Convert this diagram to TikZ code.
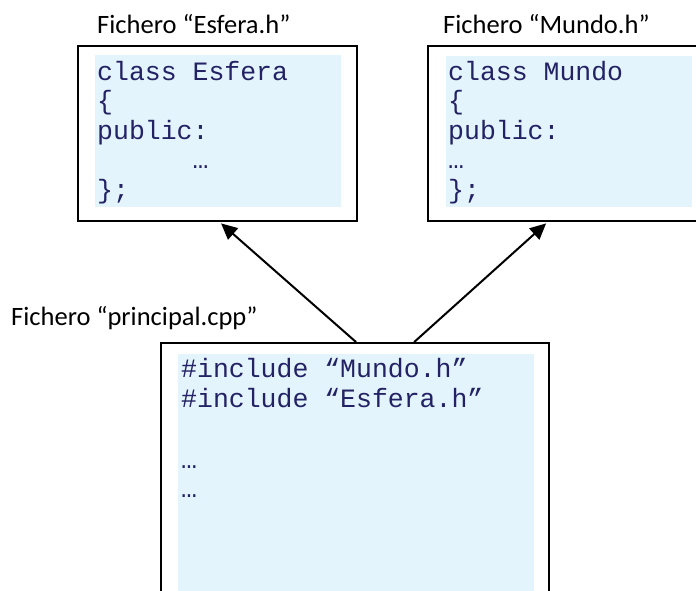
\documentclass[tikz,border=0pt]{standalone}
\usepackage{fontspec}
\setmainfont{Carlito}
\newfontfamily\codefamily{Liberation Mono}
\usetikzlibrary{arrows.meta,calc}

\definecolor{codeink}{RGB}{34,34,100}
\definecolor{codebg}{RGB}{228,244,253}

\tikzset{
  filebox/.style={draw=black, line width=1.8pt, fill=white, rectangle, inner sep=0pt},
  codearea/.style={fill=codebg, rectangle, inner sep=0pt},
  codeline/.style={anchor=base west, inner sep=0pt, text=codeink,
    font=\codefamily\fontsize{26.5}{29}\selectfont},
  filetitle/.style={anchor=base west, inner sep=0pt,
    font=\fontsize{26.5}{30}\selectfont},
  include/.style={line width=2pt, -{Triangle[length=16pt,width=15pt]}}
}

\begin{document}
\begin{tikzpicture}[x=1pt,y=-1pt]
  \useasboundingbox (0,0) rectangle (696,590);
  \clip (0,0) rectangle (696,590);

  % file boxes
  \node[filebox, minimum width=279, minimum height=175] (esfera) at (217.5,133.5) {};
  \node[filebox, minimum width=270, minimum height=175] (mundo) at (563,133.5) {};
  \node[filebox, minimum width=388, minimum height=300] (principal) at (355,493) {};

  % shaded code areas
  \node[codearea, minimum width=246, minimum height=152] (esferabg) at (218,131) {};
  \node[codearea, minimum width=246, minimum height=151] (mundobg) at (569,131.5) {};
  \node[codearea, minimum width=356, minimum height=240] (principalbg) at (356,474) {};

  % titles
  \node[filetitle] (tesfera) at (97,33) {Fichero “Esfera.h”};
  \node[filetitle] (tmundo) at (443,33) {Fichero “Mundo.h”};
  \node[filetitle] (tprincipal) at (11,325) {Fichero “principal.cpp”};

  % Esfera.h
  \node[codeline] (e1) at (97,80) {class Esfera};
  \node[codeline] (e2) at (97,109.5) {\{};
  \node[codeline] (e3) at (97,139) {public:};
  \node[codeline] (e4) at (97,168.5) {\hspace*{95.4pt}…};
  \node[codeline] (e5) at (97,198) {\};};

  % Mundo.h
  \node[codeline] (m1) at (448,80) {class Mundo};
  \node[codeline] (m2) at (448,109.5) {\{};
  \node[codeline] (m3) at (448,139) {public:};
  \node[codeline] (m4) at (448,168.5) {…};
  \node[codeline] (m5) at (448,198) {\};};

  % principal.cpp
  \node[codeline] (p1) at (181,377) {\#include “Mundo.h”};
  \node[codeline] (p2) at (181,407) {\#include “Esfera.h”};
  \node[codeline] (p3) at (181,468.5) {…};
  \node[codeline] (p4) at (181,497) {…};

  % include dependencies
  \coordinate (fromE) at ($(principal.north west)+(196,0)$);
  \coordinate (fromM) at ($(principal.north west)+(254,0)$);
  \coordinate (toE) at ($(esfera.south west)+(144,1.5)$);
  \coordinate (toM) at ($(mundo.south west)+(119,1.5)$);
  \draw[include] (fromE) -- (toE);
  \draw[include] (fromM) -- (toM);
\end{tikzpicture}
\end{document}
